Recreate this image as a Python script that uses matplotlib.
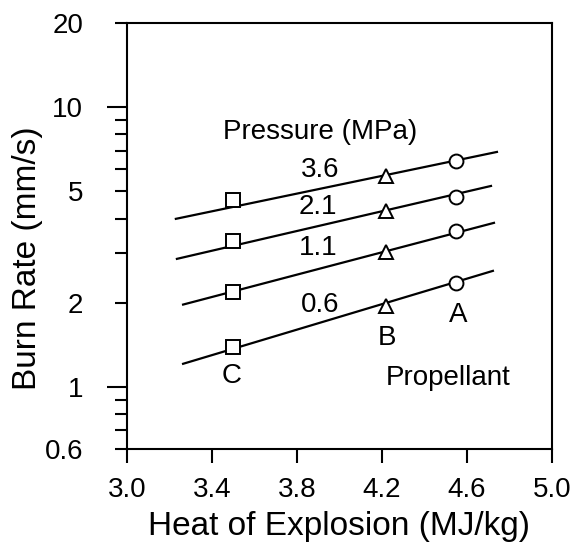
import matplotlib
matplotlib.use("Agg")
import matplotlib.pyplot as plt
from matplotlib.ticker import FixedLocator, FuncFormatter

plt.rcParams['font.family'] = ['Liberation Sans', 'DejaVu Sans']

# Propellants C, B, A and their heat of explosion (MJ/kg)
propellants = ["C", "B", "A"]
heat = [3.50, 4.22, 4.55]
markers = ["s", "^", "o"]

# Pressure (MPa) series, burn rate (mm/s) per propellant
pressures = ["3.6", "2.1", "1.1", "0.6"]
rate_36 = [4.67, 5.69, 6.43]
rate_21 = [3.33, 4.27, 4.78]
rate_11 = [2.19, 3.04, 3.61]
rate_06 = [1.39, 1.94, 2.36]
rates = [rate_36, rate_21, rate_11, rate_06]

# fitted lines, start and end points
fit_x0 = [3.23, 3.235, 3.264, 3.264]
fit_y0 = [3.99, 2.87, 1.97, 1.21]
fit_x1 = [4.741, 4.713, 4.727, 4.722]
fit_y1 = [6.92, 5.23, 3.86, 2.60]

label_x = [3.91, 3.90, 3.90, 3.91]
label_y = [5.97, 4.41, 3.14, 1.97]

fs = 20

fig = plt.figure(figsize=(5.72, 5.54), dpi=100)
ax = fig.add_axes([0.222, 0.1895, 0.743, 0.769])

for i in range(len(pressures)):
    ax.plot([fit_x0[i], fit_x1[i]], [fit_y0[i], fit_y1[i]], color="black", lw=1.6, zorder=2)
    for j in range(len(heat)):
        ax.plot(heat[j], rates[i][j], marker=markers[j], ms=10,
                mfc="white", mec="black", mew=1.4, ls="none", zorder=3)
    ax.text(label_x[i], label_y[i], pressures[i], fontsize=fs, ha="center", va="center")

ax.text(3.91, 8.16, "Pressure (MPa)", fontsize=fs, ha="center", va="center")
ax.text(4.558, 1.81, "A", fontsize=fs, ha="center", va="center")
ax.text(4.224, 1.50, "B", fontsize=fs, ha="center", va="center")
ax.text(3.494, 1.09, "C", fontsize=fs, ha="center", va="center")
ax.text(4.51, 1.08, "Propellant", fontsize=fs, ha="center", va="center")

ax.set_yscale("log")
ax.set_xlim(3.0, 5.0)
ax.set_ylim(0.6, 20)

ax.set_xticks([3.0, 3.4, 3.8, 4.2, 4.6, 5.0])
ax.set_xticklabels(["3.0", "3.4", "3.8", "4.2", "4.6", "5.0"])
ax.yaxis.set_major_locator(FixedLocator([1, 10]))
ax.yaxis.set_major_formatter(FuncFormatter(lambda v, p: "%g" % v))
ax.yaxis.set_minor_locator(FixedLocator([0.6, 0.7, 0.8, 0.9, 2, 3, 4, 5, 6, 7, 8, 9, 20]))
ax.yaxis.set_minor_formatter(FuncFormatter(lambda v, p: "%g" % v if v in (0.6, 2, 5, 20) else ""))

ax.tick_params(axis="x", which="major", direction="out", length=10, width=1.5, pad=10, labelsize=fs)
ax.tick_params(axis="y", which="major", direction="out", length=14.4, width=1.5, pad=17.3, labelsize=fs)
ax.tick_params(axis="y", which="minor", direction="out", length=8.6, width=1.5, pad=23, labelsize=fs)

for s in ax.spines.values():
    s.set_linewidth(1.5)

ax.set_xlabel("Heat of Explosion (MJ/kg)", fontsize=24, labelpad=6)
ax.set_ylabel("Burn Rate (mm/s)", fontsize=24, labelpad=1, y=0.448)

fig.savefig("out.png", dpi=100)
